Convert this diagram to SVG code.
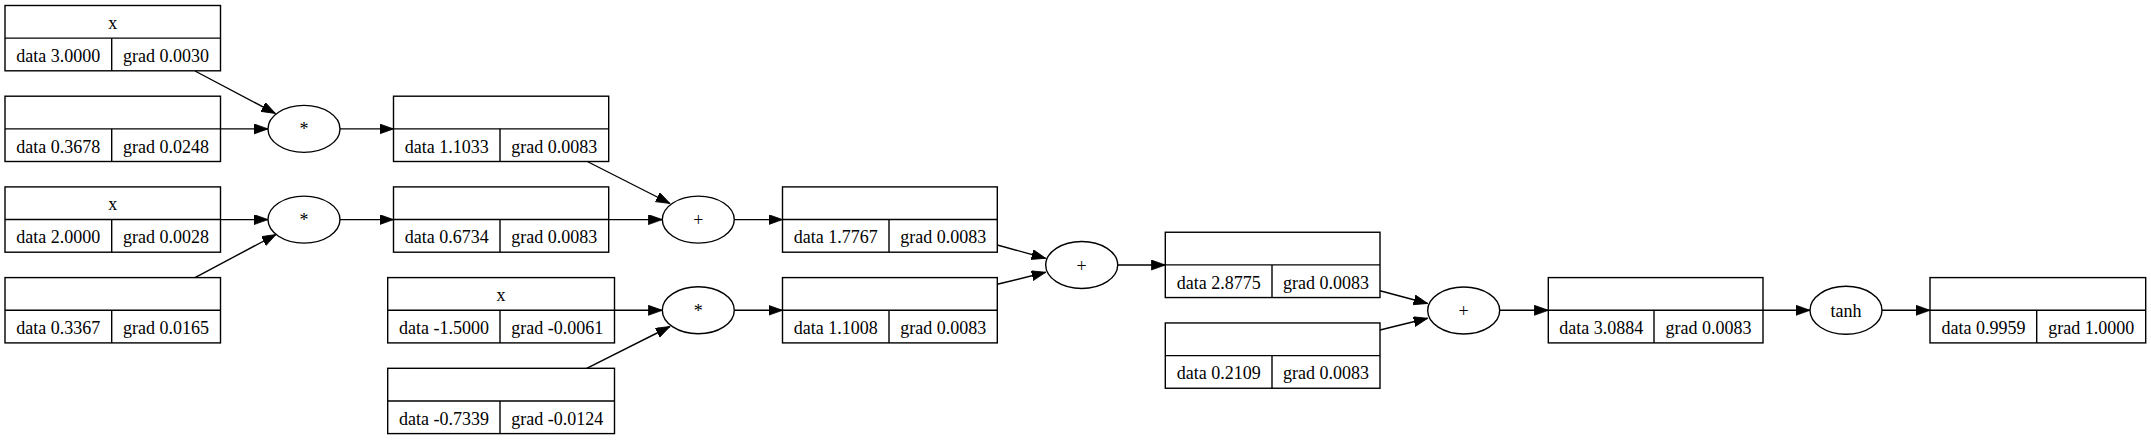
<svg xmlns="http://www.w3.org/2000/svg" width="2151" height="440" viewBox="0 0 2151 440">
<defs>
<marker id="ah" markerUnits="userSpaceOnUse" markerWidth="15" markerHeight="11" refX="14" refY="5" orient="auto">
<path d="M0,0 L14,5 L0,10 z" fill="#000" stroke="#000" stroke-width="0.8"/>
</marker>
<style>
.b{fill:none;stroke:#000;stroke-width:1.4}
.e{fill:none;stroke:#000;stroke-width:1.4}
.c{fill:none;stroke:#000;stroke-width:1.4;marker-end:url(#ah)}
</style>
</defs>
<rect width="2151" height="440" fill="#fff"/>
<g id="connectors">
<line class="c" x1="195" y1="71" x2="275.5" y2="113.5"/>
<line class="c" x1="220.5" y1="128.9" x2="268" y2="128.9"/>
<line class="c" x1="220.5" y1="219.6" x2="268" y2="219.6"/>
<line class="c" x1="195" y1="277.6" x2="276" y2="234.5"/>
<line class="c" x1="340" y1="128.9" x2="393.5" y2="128.9"/>
<line class="c" x1="340" y1="219.6" x2="393.5" y2="219.6"/>
<line class="c" x1="587.3" y1="161.5" x2="670" y2="203.5"/>
<line class="c" x1="608.7" y1="219.6" x2="662.3" y2="219.6"/>
<line class="c" x1="614.5" y1="310.3" x2="662.3" y2="310.3"/>
<line class="c" x1="586.7" y1="368.3" x2="670" y2="326.5"/>
<line class="c" x1="734.3" y1="219.6" x2="782.5" y2="219.6"/>
<line class="c" x1="734.3" y1="310.3" x2="782.5" y2="310.3"/>
<line class="c" x1="997.3" y1="245" x2="1045.7" y2="258.3"/>
<line class="c" x1="997.3" y1="284.3" x2="1045.7" y2="272.3"/>
<line class="c" x1="1117.7" y1="265" x2="1165.3" y2="265"/>
<line class="c" x1="1380" y1="290.7" x2="1427.7" y2="303.5"/>
<line class="c" x1="1380" y1="330" x2="1427.7" y2="318.3"/>
<line class="c" x1="1500" y1="310.3" x2="1548.3" y2="310.3"/>
<line class="c" x1="1763" y1="310.3" x2="1810" y2="310.3"/>
<line class="c" x1="1882" y1="310.3" x2="1930" y2="310.3"/>
</g>
<g font-family="'Liberation Serif', 'Times New Roman', serif" font-size="18" text-anchor="middle" fill="#000">
<g id="n1"><rect class="b" x="5" y="5.5" width="215.5" height="65.3"/><line class="b" x1="5" y1="38.15" x2="220.5" y2="38.15"/><line class="b" x1="111.7" y1="38.15" x2="111.7" y2="70.8"/><text x="112.7" y="29">x</text><text x="58.3" y="62">data 3.0000</text><text x="166.1" y="62">grad 0.0030</text></g>
<g id="n2"><rect class="b" x="5" y="96.2" width="215.5" height="65.3"/><line class="b" x1="5" y1="128.85" x2="220.5" y2="128.85"/><line class="b" x1="111.7" y1="128.85" x2="111.7" y2="161.5"/><text x="58.3" y="152.7">data 0.3678</text><text x="166.1" y="152.7">grad 0.0248</text></g>
<g id="n3"><rect class="b" x="5" y="186.9" width="215.5" height="65.3"/><line class="b" x1="5" y1="219.55" x2="220.5" y2="219.55"/><line class="b" x1="111.7" y1="219.55" x2="111.7" y2="252.2"/><text x="112.7" y="210.4">x</text><text x="58.3" y="243.4">data 2.0000</text><text x="166.1" y="243.4">grad 0.0028</text></g>
<g id="n4"><rect class="b" x="5" y="277.6" width="215.5" height="65.3"/><line class="b" x1="5" y1="310.25" x2="220.5" y2="310.25"/><line class="b" x1="111.7" y1="310.25" x2="111.7" y2="342.9"/><text x="58.3" y="334.1">data 0.3367</text><text x="166.1" y="334.1">grad 0.0165</text></g>
<g id="m1"><ellipse class="e" cx="304" cy="128.9" rx="36" ry="23.5"/><text x="304" y="135.4">*</text></g>
<g id="m2"><ellipse class="e" cx="304" cy="219.6" rx="36" ry="23.5"/><text x="304" y="226.1">*</text></g>
<g id="n5"><rect class="b" x="393.5" y="96.2" width="215.2" height="65.3"/><line class="b" x1="393.5" y1="128.85" x2="608.7" y2="128.85"/><line class="b" x1="500" y1="128.85" x2="500" y2="161.5"/><text x="446.8" y="152.7">data 1.1033</text><text x="554.3" y="152.7">grad 0.0083</text></g>
<g id="n6"><rect class="b" x="393.5" y="186.9" width="215.2" height="65.3"/><line class="b" x1="393.5" y1="219.55" x2="608.7" y2="219.55"/><line class="b" x1="500" y1="219.55" x2="500" y2="252.2"/><text x="446.8" y="243.4">data 0.6734</text><text x="554.3" y="243.4">grad 0.0083</text></g>
<g id="n7"><rect class="b" x="387.7" y="277.6" width="226.8" height="65.3"/><line class="b" x1="387.7" y1="310.25" x2="614.5" y2="310.25"/><line class="b" x1="500" y1="310.25" x2="500" y2="342.9"/><text x="501.1" y="301.1">x</text><text x="443.9" y="334.1">data -1.5000</text><text x="557.3" y="334.1">grad -0.0061</text></g>
<g id="n8"><rect class="b" x="387.7" y="368.3" width="226.8" height="65.3"/><line class="b" x1="387.7" y1="400.95" x2="614.5" y2="400.95"/><line class="b" x1="500" y1="400.95" x2="500" y2="433.6"/><text x="443.9" y="424.8">data -0.7339</text><text x="557.3" y="424.8">grad -0.0124</text></g>
<g id="a1"><ellipse class="e" cx="698.3" cy="219.6" rx="36" ry="23.5"/><text x="698.3" y="226.1">+</text></g>
<g id="m3"><ellipse class="e" cx="698.3" cy="310.3" rx="36" ry="23.5"/><text x="698.3" y="316.8">*</text></g>
<g id="n9"><rect class="b" x="782.5" y="186.9" width="214.8" height="65.3"/><line class="b" x1="782.5" y1="219.55" x2="997.3" y2="219.55"/><line class="b" x1="889" y1="219.55" x2="889" y2="252.2"/><text x="835.8" y="243.4">data 1.7767</text><text x="943.2" y="243.4">grad 0.0083</text></g>
<g id="n10"><rect class="b" x="782.5" y="277.6" width="214.8" height="65.3"/><line class="b" x1="782.5" y1="310.25" x2="997.3" y2="310.25"/><line class="b" x1="889" y1="310.25" x2="889" y2="342.9"/><text x="835.8" y="334.1">data 1.1008</text><text x="943.2" y="334.1">grad 0.0083</text></g>
<g id="a2"><ellipse class="e" cx="1081.7" cy="265" rx="36" ry="23.5"/><text x="1081.7" y="271.5">+</text></g>
<g id="n11"><rect class="b" x="1165.3" y="232.25" width="214.7" height="65.3"/><line class="b" x1="1165.3" y1="264.9" x2="1380" y2="264.9"/><line class="b" x1="1272" y1="264.9" x2="1272" y2="297.55"/><text x="1218.7" y="288.75">data 2.8775</text><text x="1326" y="288.75">grad 0.0083</text></g>
<g id="n12"><rect class="b" x="1165.3" y="322.95" width="214.7" height="65.3"/><line class="b" x1="1165.3" y1="355.6" x2="1380" y2="355.6"/><line class="b" x1="1272" y1="355.6" x2="1272" y2="388.25"/><text x="1218.7" y="379.45">data 0.2109</text><text x="1326" y="379.45">grad 0.0083</text></g>
<g id="a3"><ellipse class="e" cx="1463.7" cy="310.5" rx="36" ry="23.5"/><text x="1463.7" y="317">+</text></g>
<g id="n13"><rect class="b" x="1548.3" y="277.6" width="214.7" height="65.3"/><line class="b" x1="1548.3" y1="310.25" x2="1763" y2="310.25"/><line class="b" x1="1654" y1="310.25" x2="1654" y2="342.9"/><text x="1601.2" y="334.1">data 3.0884</text><text x="1708.5" y="334.1">grad 0.0083</text></g>
<g id="t1"><ellipse class="e" cx="1846" cy="310.3" rx="36" ry="24"/><text x="1846" y="316.8">tanh</text></g>
<g id="n14"><rect class="b" x="1930" y="277.6" width="215.7" height="65.3"/><line class="b" x1="1930" y1="310.25" x2="2145.7" y2="310.25"/><line class="b" x1="2036.7" y1="310.25" x2="2036.7" y2="342.9"/><text x="1983.4" y="334.1">data 0.9959</text><text x="2091.2" y="334.1">grad 1.0000</text></g>
</g>
</svg>
